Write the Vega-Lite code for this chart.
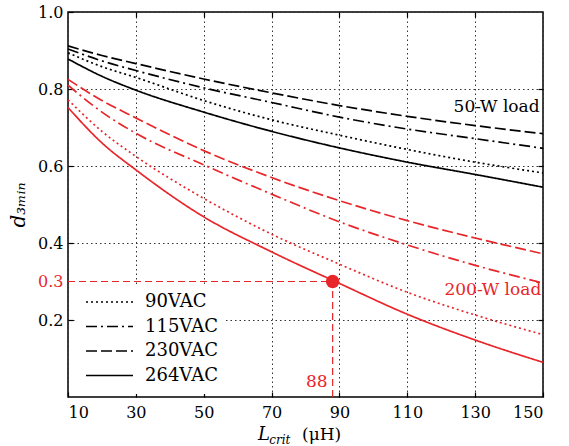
{
  "$schema": "https://vega.github.io/schema/vega-lite/v6.json",
  "width": 475,
  "height": 385,
  "autosize": "none",
  "padding": {"left": 68, "top": 12, "right": 26, "bottom": 49},
  "background": "white",
  "config": {
    "view": {"stroke": "black", "strokeWidth": 1.5},
    "font": "DejaVu Serif",
    "axis": {
      "labelFont": "DejaVu Serif",
      "labelFontSize": 16,
      "labelColor": "black",
      "tickColor": "black",
      "tickWidth": 1.2,
      "domain": false,
      "gridColor": "#333",
      "gridDash": [1.5, 3],
      "gridWidth": 1,
      "tickSize": -5,
      "labelPadding": 12
    }
  },
  "datasets": {
    "curves": [
      {"load": "50-W", "vac": "90VAC", "L": 10, "d": 0.894},
      {"load": "50-W", "vac": "90VAC", "L": 20, "d": 0.858},
      {"load": "50-W", "vac": "90VAC", "L": 30, "d": 0.83},
      {"load": "50-W", "vac": "90VAC", "L": 50, "d": 0.77},
      {"load": "50-W", "vac": "90VAC", "L": 70, "d": 0.72},
      {"load": "50-W", "vac": "90VAC", "L": 90, "d": 0.68},
      {"load": "50-W", "vac": "90VAC", "L": 110, "d": 0.643},
      {"load": "50-W", "vac": "90VAC", "L": 130, "d": 0.61},
      {"load": "50-W", "vac": "90VAC", "L": 150, "d": 0.582},
      {"load": "50-W", "vac": "115VAC", "L": 10, "d": 0.904},
      {"load": "50-W", "vac": "115VAC", "L": 20, "d": 0.873},
      {"load": "50-W", "vac": "115VAC", "L": 30, "d": 0.848},
      {"load": "50-W", "vac": "115VAC", "L": 50, "d": 0.803},
      {"load": "50-W", "vac": "115VAC", "L": 70, "d": 0.765},
      {"load": "50-W", "vac": "115VAC", "L": 90, "d": 0.727},
      {"load": "50-W", "vac": "115VAC", "L": 110, "d": 0.696},
      {"load": "50-W", "vac": "115VAC", "L": 130, "d": 0.671},
      {"load": "50-W", "vac": "115VAC", "L": 150, "d": 0.646},
      {"load": "50-W", "vac": "230VAC", "L": 10, "d": 0.912},
      {"load": "50-W", "vac": "230VAC", "L": 20, "d": 0.887},
      {"load": "50-W", "vac": "230VAC", "L": 30, "d": 0.866},
      {"load": "50-W", "vac": "230VAC", "L": 50, "d": 0.826},
      {"load": "50-W", "vac": "230VAC", "L": 70, "d": 0.79},
      {"load": "50-W", "vac": "230VAC", "L": 90, "d": 0.757},
      {"load": "50-W", "vac": "230VAC", "L": 110, "d": 0.729},
      {"load": "50-W", "vac": "230VAC", "L": 130, "d": 0.705},
      {"load": "50-W", "vac": "230VAC", "L": 150, "d": 0.684},
      {"load": "50-W", "vac": "264VAC", "L": 10, "d": 0.878},
      {"load": "50-W", "vac": "264VAC", "L": 20, "d": 0.833},
      {"load": "50-W", "vac": "264VAC", "L": 30, "d": 0.797},
      {"load": "50-W", "vac": "264VAC", "L": 50, "d": 0.74},
      {"load": "50-W", "vac": "264VAC", "L": 70, "d": 0.69},
      {"load": "50-W", "vac": "264VAC", "L": 90, "d": 0.647},
      {"load": "50-W", "vac": "264VAC", "L": 110, "d": 0.61},
      {"load": "50-W", "vac": "264VAC", "L": 130, "d": 0.578},
      {"load": "50-W", "vac": "264VAC", "L": 150, "d": 0.545},
      {"load": "200-W", "vac": "90VAC", "L": 10, "d": 0.772},
      {"load": "200-W", "vac": "90VAC", "L": 20, "d": 0.69},
      {"load": "200-W", "vac": "90VAC", "L": 30, "d": 0.625},
      {"load": "200-W", "vac": "90VAC", "L": 50, "d": 0.516},
      {"load": "200-W", "vac": "90VAC", "L": 70, "d": 0.423},
      {"load": "200-W", "vac": "90VAC", "L": 90, "d": 0.345},
      {"load": "200-W", "vac": "90VAC", "L": 110, "d": 0.272},
      {"load": "200-W", "vac": "90VAC", "L": 130, "d": 0.213},
      {"load": "200-W", "vac": "90VAC", "L": 150, "d": 0.162},
      {"load": "200-W", "vac": "115VAC", "L": 10, "d": 0.81},
      {"load": "200-W", "vac": "115VAC", "L": 20, "d": 0.74},
      {"load": "200-W", "vac": "115VAC", "L": 30, "d": 0.685},
      {"load": "200-W", "vac": "115VAC", "L": 50, "d": 0.603},
      {"load": "200-W", "vac": "115VAC", "L": 70, "d": 0.527},
      {"load": "200-W", "vac": "115VAC", "L": 90, "d": 0.455},
      {"load": "200-W", "vac": "115VAC", "L": 110, "d": 0.395},
      {"load": "200-W", "vac": "115VAC", "L": 130, "d": 0.342},
      {"load": "200-W", "vac": "115VAC", "L": 150, "d": 0.296},
      {"load": "200-W", "vac": "230VAC", "L": 10, "d": 0.825},
      {"load": "200-W", "vac": "230VAC", "L": 20, "d": 0.77},
      {"load": "200-W", "vac": "230VAC", "L": 30, "d": 0.725},
      {"load": "200-W", "vac": "230VAC", "L": 50, "d": 0.64},
      {"load": "200-W", "vac": "230VAC", "L": 70, "d": 0.57},
      {"load": "200-W", "vac": "230VAC", "L": 90, "d": 0.51},
      {"load": "200-W", "vac": "230VAC", "L": 110, "d": 0.458},
      {"load": "200-W", "vac": "230VAC", "L": 130, "d": 0.413},
      {"load": "200-W", "vac": "230VAC", "L": 150, "d": 0.372},
      {"load": "200-W", "vac": "264VAC", "L": 10, "d": 0.752},
      {"load": "200-W", "vac": "264VAC", "L": 20, "d": 0.66},
      {"load": "200-W", "vac": "264VAC", "L": 30, "d": 0.59},
      {"load": "200-W", "vac": "264VAC", "L": 50, "d": 0.468},
      {"load": "200-W", "vac": "264VAC", "L": 70, "d": 0.377},
      {"load": "200-W", "vac": "264VAC", "L": 90, "d": 0.295},
      {"load": "200-W", "vac": "264VAC", "L": 110, "d": 0.215},
      {"load": "200-W", "vac": "264VAC", "L": 130, "d": 0.148},
      {"load": "200-W", "vac": "264VAC", "L": 150, "d": 0.09}
    ]
  },
  "layer": [
    {
      "data": {"name": "curves"},
      "mark": {"type": "line", "strokeWidth": 1.7, "interpolate": "monotone"},
      "encoding": {
        "x": {
          "field": "L", "type": "quantitative",
          "scale": {"domain": [10, 150], "nice": false, "zero": false},
          "axis": {"orient": "bottom", "values": [10, 30, 50, 70, 90, 110, 130, 150], "title": null}
        },
        "y": {
          "field": "d", "type": "quantitative",
          "scale": {"domain": [0, 1], "nice": false},
          "axis": {
            "orient": "left",
            "values": [0.2, 0.3, 0.4, 0.6, 0.8, 1.0],
            "format": ".1f",
            "labelPadding": 10,
            "labelColor": {"condition": {"test": "abs(datum.value - 0.3) < 0.001", "value": "#e8262a"}, "value": "black"},
            "gridOpacity": {"condition": {"test": "abs(datum.value - 0.3) < 0.001", "value": 0}, "value": 1},
            "tickOpacity": {"condition": {"test": "abs(datum.value - 0.3) < 0.001", "value": 0}, "value": 1},
            "title": "d₃ₘᵢₙ",
            "titleFont": "DejaVu Serif",
            "titleFontStyle": "italic",
            "titleFontWeight": "normal",
            "titleFontSize": 20,
            "titlePadding": 9
          }
        },
        "color": {
          "field": "load", "type": "nominal",
          "scale": {"domain": ["50-W", "200-W"], "range": ["black", "#e8262a"]},
          "legend": null
        },
        "strokeDash": {
          "field": "vac", "type": "nominal",
          "scale": {"domain": ["90VAC", "115VAC", "230VAC", "264VAC"], "range": [[2, 3], [11, 4, 2, 4], [11, 4], [1, 0]]},
          "legend": {
            "orient": "none", "legendX": 9, "legendY": 272, "title": null,
            "fillColor": "white", "padding": 8,
            "symbolType": "stroke", "symbolSize": 2209,
            "symbolStrokeColor": "black", "symbolStrokeWidth": 1.6,
            "labelFont": "DejaVu Serif", "labelFontSize": 18, "labelColor": "black",
            "labelOffset": 11, "clipHeight": 20, "rowPadding": 4.5
          }
        }
      }
    },
    {
      "data": {"name": "curves"},
      "mark": {"type": "point", "opacity": 0},
      "encoding": {
        "x": {"field": "L", "type": "quantitative", "axis": {"orient": "top", "values": [30, 50, 70, 90, 110, 130], "labels": false, "grid": false, "title": null}},
        "y": {"field": "d", "type": "quantitative", "axis": {"orient": "right", "values": [0.2, 0.4, 0.6, 0.8], "labels": false, "grid": false, "title": null}}
      }
    },
    {
      "data": {"values": [
        {"L": 10, "L2": 88, "d": 0.3, "d2": 0.3},
        {"L": 88, "L2": 88, "d": 0, "d2": 0.3}
      ]},
      "mark": {"type": "rule", "color": "#e8262a", "strokeDash": [7, 4], "strokeWidth": 1.2},
      "encoding": {
        "x": {"field": "L", "type": "quantitative", "axis": null},
        "x2": {"field": "L2"},
        "y": {"field": "d", "type": "quantitative", "axis": null},
        "y2": {"field": "d2"}
      }
    },
    {
      "data": {"values": [{"L": 88, "d": 0.3}]},
      "mark": {"type": "circle", "color": "#e8262a", "size": 180, "opacity": 1},
      "encoding": {
        "x": {"field": "L", "type": "quantitative", "axis": null},
        "y": {"field": "d", "type": "quantitative", "axis": null}
      }
    },
    {
      "data": {"values": [{"L": 149, "d": 0.752, "label": "50-W load"}]},
      "mark": {"type": "text", "align": "right", "baseline": "middle", "font": "DejaVu Serif", "fontSize": 17, "color": "black"},
      "encoding": {
        "x": {"field": "L", "type": "quantitative", "axis": null},
        "y": {"field": "d", "type": "quantitative", "axis": null},
        "text": {"field": "label"}
      }
    },
    {
      "data": {"values": [
        {"L": 149.5, "d": 0.278, "label": "200-W load"},
        {"L": 86.5, "d": 0.04, "label": "88"}
      ]},
      "mark": {"type": "text", "align": "right", "baseline": "middle", "font": "DejaVu Serif", "fontSize": 17, "color": "#e8262a"},
      "encoding": {
        "x": {"field": "L", "type": "quantitative", "axis": null},
        "y": {"field": "d", "type": "quantitative", "axis": null},
        "text": {"field": "label"}
      }
    },
    {
      "data": {"values": [{"L": 66, "d": 0, "label": "L"}]},
      "mark": {"type": "text", "align": "left", "baseline": "alphabetic", "dy": 43, "font": "DejaVu Serif", "fontStyle": "italic", "fontSize": 18, "color": "black"},
      "encoding": {
        "x": {"field": "L", "type": "quantitative", "axis": null},
        "y": {"field": "d", "type": "quantitative", "axis": null},
        "text": {"field": "label"}
      }
    },
    {
      "data": {"values": [{"L": 69.3, "d": 0, "label": "crit"}]},
      "mark": {"type": "text", "align": "left", "baseline": "alphabetic", "dy": 47, "font": "DejaVu Serif", "fontStyle": "italic", "fontSize": 12, "color": "black"},
      "encoding": {
        "x": {"field": "L", "type": "quantitative", "axis": null},
        "y": {"field": "d", "type": "quantitative", "axis": null},
        "text": {"field": "label"}
      }
    },
    {
      "data": {"values": [{"L": 79, "d": 0, "label": "(μH)"}]},
      "mark": {"type": "text", "align": "left", "baseline": "alphabetic", "dy": 43, "font": "DejaVu Serif", "fontSize": 17, "color": "black"},
      "encoding": {
        "x": {"field": "L", "type": "quantitative", "axis": null},
        "y": {"field": "d", "type": "quantitative", "axis": null},
        "text": {"field": "label"}
      }
    }
  ],
  "resolve": {"axis": {"x": "independent", "y": "independent"}}
}
